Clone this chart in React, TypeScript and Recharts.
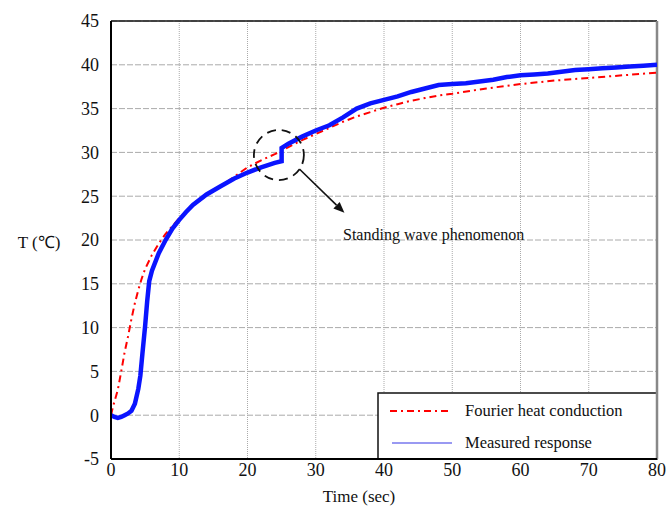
import React from 'react';
import {
  LineChart,
  Line,
  XAxis,
  YAxis,
  CartesianGrid,
  ReferenceLine,
  ReferenceDot,
} from 'recharts';

const measuredTime = [
  0, 0.5, 1, 1.5, 2, 2.5, 3, 3.5, 4, 4.3, 4.6, 5, 5.3, 5.6, 6, 7, 8, 9, 10, 11, 12, 14, 16, 18, 20, 22, 24, 25,
  25, 26, 28, 30, 32, 34, 36, 38, 40, 42, 44, 46, 48, 50, 52, 54, 56, 58, 60, 62, 64, 66, 68, 70, 72, 74, 76, 78, 80,
];
const measuredTemp = [
  0, -0.2, -0.3, -0.2, 0, 0.2, 0.5, 1.3, 3.0, 4.5, 7, 10.2, 13, 15.3, 16.5, 18.5, 20, 21.3, 22.3, 23.2, 24, 25.2, 26.1,
  27, 27.7, 28.3, 28.8, 29.0, 30.5, 31.0, 31.8, 32.5, 33.1, 34.0, 35.0, 35.6, 36.0, 36.4, 36.9, 37.3, 37.7, 37.8, 37.9,
  38.1, 38.3, 38.6, 38.8, 38.9, 39.0, 39.2, 39.4, 39.5, 39.6, 39.7, 39.8, 39.9, 40.0,
];

// Fourier heat conduction (red dash-dot)
const fourierTime = [
  0, 0.3, 0.6, 1, 1.5, 2, 2.5, 3, 3.5, 4, 4.5, 5, 6, 7, 8, 9, 10, 12, 14, 16, 18, 20, 22, 24, 26, 28, 30, 32, 34, 36,
  38, 40, 42, 44, 46, 48, 50, 55, 60, 65, 70, 75, 80,
];
const fourierTemp = [
  0, 1, 1.8, 2.9, 5, 7.2, 9, 11, 12.8, 14.3, 15.6, 16.7, 18.3, 19.6, 20.7, 21.6, 22.5, 23.9, 25.1, 26.1, 27.2, 28.3,
  29.1, 29.8, 30.6, 31.4, 32.1, 32.8, 33.5, 34.1, 34.6, 35.1, 35.5, 35.9, 36.2, 36.5, 36.7, 37.3, 37.8, 38.2, 38.5,
  38.8, 39.1,
];

const xTicks = [0, 10, 20, 30, 40, 50, 60, 70, 80];
const yTicks = [-5, 0, 5, 10, 15, 20, 25, 30, 35, 40, 45];

const measuredData = measuredTime.map((t, i) => ({ t, v: measuredTemp[i] }));
const fourierData = fourierTime.map((t, i) => ({ t, v: fourierTemp[i] }));

const FONT = '"Liberation Serif", "Times New Roman", serif';
const tickStyle = { fontFamily: FONT, fontSize: 18, fill: '#111' };

// arrow from the circled region to the caption
const Arrow = (props: any) => {
  const { x1, y1, x2, y2 } = props;
  const dx = x2 - x1;
  const dy = y2 - y1;
  const len = Math.sqrt(dx * dx + dy * dy);
  const ux = dx / len;
  const uy = dy / len;
  const hl = 11;
  const hw = 4.5;
  const bx = x2 - ux * hl;
  const by = y2 - uy * hl;
  return (
    <g>
      <line x1={x1} y1={y1} x2={bx} y2={by} stroke="#111" strokeWidth={1.6} />
      <polygon
        points={`${x2},${y2} ${bx - uy * hw},${by + ux * hw} ${bx + uy * hw},${by - ux * hw}`}
        fill="#111"
      />
    </g>
  );
};

const App: React.FC = () => {
  return (
    <div
      style={{
        position: 'absolute',
        left: 0,
        top: 0,
        width: 667,
        height: 514,
        background: '#fff',
        fontFamily: FONT,
      }}
    >
      <LineChart
        width={667}
        height={514}
        margin={{ top: 21, right: 10, bottom: 0, left: 0 }}
        style={{ fontFamily: FONT }}
      >
        <CartesianGrid vertical={false} stroke="#aaa" strokeDasharray="6 2" />
        <CartesianGrid horizontal={false} stroke="#aaa" strokeDasharray="1 1" />
        <XAxis
          type="number"
          dataKey="t"
          domain={[0, 80]}
          ticks={xTicks}
          allowDataOverflow
          height={55}
          tickLine={false}
          tickSize={0}
          tickMargin={4}
          axisLine={{ stroke: '#000', strokeWidth: 2 }}
          tick={tickStyle}
        />
        <YAxis
          type="number"
          domain={[-5, 45]}
          ticks={yTicks}
          allowDataOverflow
          width={111}
          tickLine={false}
          tickSize={0}
          tickMargin={12}
          axisLine={{ stroke: '#000', strokeWidth: 2 }}
          tick={tickStyle}
        />
        <ReferenceLine y={45} stroke="#111" strokeWidth={1.5} />
        <ReferenceLine x={80} stroke="#888" strokeWidth={2.5} />

        <Line
          data={fourierData}
          dataKey="v"
          type="linear"
          stroke="#ff0000"
          strokeWidth={2}
          strokeDasharray="7 4 2 4"
          dot={false}
          isAnimationActive={false}
        />
        <Line
          data={measuredData}
          dataKey="v"
          type="linear"
          stroke="#0a14ff"
          strokeWidth={4.5}
          dot={false}
          isAnimationActive={false}
        />

        <ReferenceDot
          x={24.6}
          y={29.7}
          r={25}
          fill="none"
          stroke="#111"
          strokeWidth={1.8}
          strokeDasharray="9 6"
        />
        <ReferenceLine
          segment={[
            { x: 27.6, y: 28.1 },
            { x: 34.2, y: 23.1 },
          ]}
          shape={Arrow}
        />

        <text x={343} y={240} fontFamily={FONT} fontSize={16} fill="#111">
          Standing wave phenomenon
        </text>
        <text x={39} y={248} fontFamily={FONT} fontSize={17} fill="#111" textAnchor="middle">
          T (℃)
        </text>
        <text x={359} y={502} fontFamily={FONT} fontSize={17} fill="#111" textAnchor="middle">
          Time (sec)
        </text>

        {/* legend box */}
        <g>
          <rect x={378} y={393} width={279} height={66} fill="#fff" stroke="#111" strokeWidth={1.5} />
          <line x1={390} y1={411} x2={452} y2={411} stroke="#ff0000" strokeWidth={2} strokeDasharray="7 4 2 4" />
          <text x={465} y={416} fontFamily={FONT} fontSize={16.5} fill="#111">
            Fourier heat conduction
          </text>
          <line x1={392} y1={443} x2={452} y2={443} stroke="#7777ee" strokeWidth={1.5} />
          <text x={465} y={448} fontFamily={FONT} fontSize={16.5} fill="#111">
            Measured response
          </text>
        </g>
      </LineChart>
    </div>
  );
};

export default App;
